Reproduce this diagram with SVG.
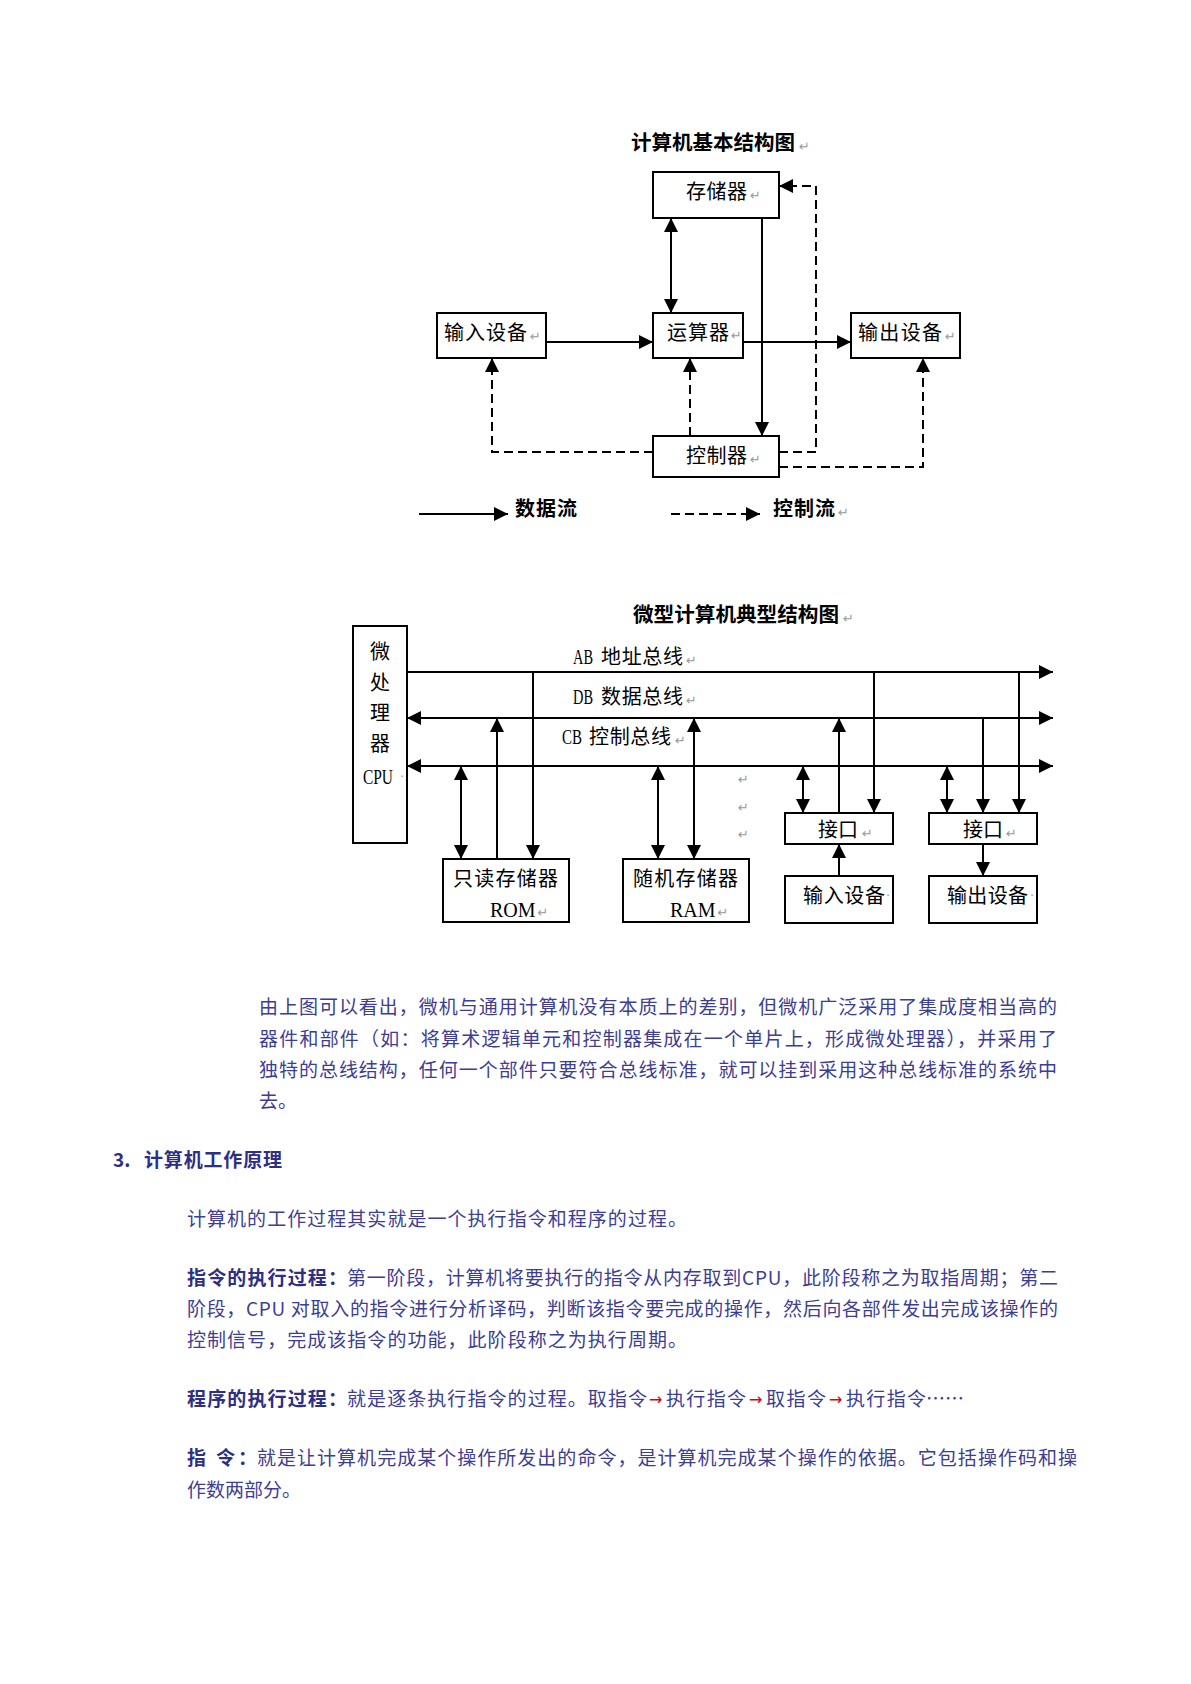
<svg xmlns="http://www.w3.org/2000/svg" width="1191" height="1684" viewBox="0 0 1191 1684">
<style>
.box{fill:#fff;stroke:#000;stroke-width:2}
.ln{fill:none;stroke:#000;stroke-width:2}
.dash{stroke-dasharray:9 5}
.lbl{font-family:"Noto Sans CJK SC","Noto Sans",sans-serif;font-size:20px;fill:#000}
.ttl{font-weight:bold}
.lat{font-family:"Liberation Serif",serif}
.rt{font-family:"DejaVu Sans",sans-serif;font-size:13px;fill:#999}
.p{font-family:"Noto Sans CJK SC","Noto Sans",sans-serif;font-size:19px;fill:#3d3d96}
.pb{font-weight:bold;fill:#2e2e85}
.red{font-family:"DejaVu Sans",sans-serif;font-size:16px;fill:#e00000}
</style>
<defs>
<marker id="ah" markerUnits="userSpaceOnUse" viewBox="0 0 14 14" markerWidth="14" markerHeight="14" refX="14" refY="7" orient="auto-start-reverse">
<path d="M0,0 L14,7 L0,14 z" fill="#000"/>
</marker>
</defs>

<!-- ========== Diagram 1 ========== -->
<g id="title1">
<text class="lbl ttl" x="631" y="150" textLength="164" lengthAdjust="spacingAndGlyphs">计算机基本结构图</text>
<text class="rt" x="799" y="151">↵</text>
</g>

<g id="connectors1">
<line class="ln" x1="671" y1="218" x2="671" y2="313" marker-start="url(#ah)" marker-end="url(#ah)"/>
<line class="ln" x1="546" y1="342" x2="653" y2="342" marker-end="url(#ah)"/>
<line class="ln" x1="743" y1="342" x2="851" y2="342" marker-end="url(#ah)"/>
<line class="ln" x1="762" y1="218" x2="762" y2="436" marker-end="url(#ah)"/>
<path class="ln dash" d="M653,452 H492 V358" marker-end="url(#ah)"/>
<path class="ln dash" d="M690,436 V358" marker-end="url(#ah)"/>
<path class="ln dash" d="M779,452 H816 V186 H779" marker-end="url(#ah)"/>
<path class="ln dash" d="M779,467 H923 V358" marker-end="url(#ah)"/>
</g>

<g id="memory">
<rect class="box" x="653" y="172" width="126" height="46"/>
<text class="lbl" x="686" y="199" textLength="61">存储器</text>
<text class="rt" x="750" y="200">↵</text>
</g>
<g id="alu">
<rect class="box" x="653" y="313" width="90" height="45"/>
<text class="lbl" x="667" y="340" textLength="62">运算器</text>
<text class="rt" x="731" y="340">↵</text>
</g>
<g id="input1">
<rect class="box" x="437" y="313" width="109" height="45"/>
<text class="lbl" x="444" y="340" textLength="83">输入设备</text>
<text class="rt" x="530" y="341">↵</text>
</g>
<g id="output1">
<rect class="box" x="851" y="313" width="109" height="45"/>
<text class="lbl" x="858" y="340" textLength="84">输出设备</text>
<text class="rt" x="945" y="341">↵</text>
</g>
<g id="controller">
<rect class="box" x="653" y="436" width="126" height="41"/>
<text class="lbl" x="686" y="463" textLength="61">控制器</text>
<text class="rt" x="750" y="464">↵</text>
</g>

<g id="legend">
<line class="ln" x1="419" y1="514" x2="508" y2="514" marker-end="url(#ah)"/>
<text class="lbl ttl" x="515" y="516" textLength="62">数据流</text>
<line class="ln dash" x1="671" y1="514" x2="760" y2="514" marker-end="url(#ah)"/>
<text class="lbl ttl" x="773" y="516" textLength="62">控制流</text>
<text class="rt" x="838" y="517">↵</text>
</g>

<!-- ========== Diagram 2 ========== -->
<g id="title2">
<text class="lbl ttl" x="633" y="622" textLength="206" lengthAdjust="spacingAndGlyphs">微型计算机典型结构图</text>
<text class="rt" x="843" y="623">↵</text>
</g>

<g id="cpu">
<rect class="box" x="353" y="626" width="54" height="217"/>
<text class="lbl" x="380" y="659" text-anchor="middle">微</text>
<text class="lbl" x="380" y="690" text-anchor="middle">处</text>
<text class="lbl" x="380" y="720" text-anchor="middle">理</text>
<text class="lbl" x="380" y="751" text-anchor="middle">器</text>
<text class="lbl lat" x="363" y="784" font-size="16" textLength="30" lengthAdjust="spacingAndGlyphs">CPU</text>
<text class="rt" x="400" y="781" font-size="8">·</text>
</g>

<g id="buses">
<line class="ln" x1="407" y1="672" x2="1053" y2="672" marker-end="url(#ah)"/>
<line class="ln" x1="407" y1="718" x2="1053" y2="718" marker-start="url(#ah)" marker-end="url(#ah)"/>
<line class="ln" x1="407" y1="766" x2="1053" y2="766" marker-start="url(#ah)" marker-end="url(#ah)"/>
<text class="lbl lat" x="573" y="664" font-size="18" textLength="20" lengthAdjust="spacingAndGlyphs">AB</text>
<text class="lbl" x="601" y="664" textLength="82">地址总线</text>
<text class="rt" x="686" y="665">↵</text>
<text class="lbl lat" x="573" y="704" font-size="18" textLength="20" lengthAdjust="spacingAndGlyphs">DB</text>
<text class="lbl" x="601" y="704" textLength="82">数据总线</text>
<text class="rt" x="686" y="705">↵</text>
<text class="lbl lat" x="562" y="744" font-size="18" textLength="20" lengthAdjust="spacingAndGlyphs">CB</text>
<text class="lbl" x="589" y="744" textLength="82">控制总线</text>
<text class="rt" x="675" y="745">↵</text>
</g>

<g id="connectors2">
<line class="ln" x1="461" y1="766" x2="461" y2="859" marker-start="url(#ah)" marker-end="url(#ah)"/>
<line class="ln" x1="497" y1="859" x2="497" y2="718" marker-end="url(#ah)"/>
<line class="ln" x1="533" y1="672" x2="533" y2="859" marker-end="url(#ah)"/>
<line class="ln" x1="658" y1="766" x2="658" y2="859" marker-start="url(#ah)" marker-end="url(#ah)"/>
<line class="ln" x1="694" y1="718" x2="694" y2="859" marker-start="url(#ah)" marker-end="url(#ah)"/>
<line class="ln" x1="803" y1="766" x2="803" y2="813" marker-start="url(#ah)" marker-end="url(#ah)"/>
<line class="ln" x1="839" y1="813" x2="839" y2="718" marker-end="url(#ah)"/>
<line class="ln" x1="874" y1="672" x2="874" y2="813" marker-end="url(#ah)"/>
<line class="ln" x1="839" y1="876" x2="839" y2="844" marker-end="url(#ah)"/>
<line class="ln" x1="947" y1="766" x2="947" y2="813" marker-start="url(#ah)" marker-end="url(#ah)"/>
<line class="ln" x1="983" y1="718" x2="983" y2="813" marker-end="url(#ah)"/>
<line class="ln" x1="1019" y1="672" x2="1019" y2="813" marker-end="url(#ah)"/>
<line class="ln" x1="983" y1="844" x2="983" y2="876" marker-end="url(#ah)"/>
</g>

<g id="rom">
<rect class="box" x="443" y="859" width="126" height="63"/>
<text class="lbl" x="453" y="886" textLength="105" font-size="21">只读存储器</text>
<text class="lbl lat" x="490" y="917" font-size="14">ROM<tspan class="rt" dx="2">↵</tspan></text>
</g>
<g id="ram">
<rect class="box" x="623" y="859" width="126" height="63"/>
<text class="lbl" x="633" y="886" textLength="105" font-size="21">随机存储器</text>
<text class="lbl lat" x="670" y="917" font-size="14">RAM<tspan class="rt" dx="2">↵</tspan></text>
</g>
<g id="marks">
<text class="rt" x="738" y="784">↵</text>
<text class="rt" x="738" y="812">↵</text>
<text class="rt" x="738" y="839">↵</text>
</g>
<g id="interface1">
<rect class="box" x="785" y="813" width="108" height="31"/>
<text class="lbl" x="818" y="837" textLength="40">接口</text>
<text class="rt" x="862" y="838">↵</text>
</g>
<g id="input2">
<rect class="box" x="785" y="876" width="108" height="47"/>
<text class="lbl" x="803" y="903" textLength="82">输入设备</text>
<text class="rt" x="886" y="900" font-size="8">·</text>
</g>
<g id="interface2">
<rect class="box" x="929" y="813" width="108" height="31"/>
<text class="lbl" x="963" y="837" textLength="40">接口</text>
<text class="rt" x="1006" y="838">↵</text>
</g>
<g id="output2">
<rect class="box" x="929" y="876" width="108" height="47"/>
<text class="lbl" x="947" y="903" textLength="81">输出设备</text>
<text class="rt" x="1030" y="900" font-size="8">·</text>
</g>

<!-- ========== Body text ========== -->
<g id="body">
<text class="p" x="259" y="1014" textLength="798">由上图可以看出，微机与通用计算机没有本质上的差别，但微机广泛采用了集成度相当高的</text>
<text class="p" x="259" y="1046" textLength="798">器件和部件（如：将算术逻辑单元和控制器集成在一个单片上，形成微处理器），并采用了</text>
<text class="p" x="259" y="1077" textLength="798">独特的总线结构，任何一个部件只要符合总线标准，就可以挂到采用这种总线标准的系统中</text>
<text class="p" x="259" y="1108">去。</text>

<text class="p pb" x="113" y="1167">3.</text>
<text class="p pb" x="144" y="1167" textLength="138">计算机工作原理</text>

<text class="p" x="187" y="1226" textLength="500">计算机的工作过程其实就是一个执行指令和程序的过程。</text>

<text class="p pb" x="187" y="1285" textLength="160">指令的执行过程：</text>
<text class="p" x="347" y="1285" textLength="711">第一阶段，计算机将要执行的指令从内存取到CPU，此阶段称之为取指周期；第二</text>
<text class="p" x="187" y="1316" textLength="871">阶段，CPU 对取入的指令进行分析译码，判断该指令要完成的操作，然后向各部件发出完成该操作的</text>
<text class="p" x="187" y="1347" textLength="500">控制信号，完成该指令的功能，此阶段称之为执行周期。</text>

<text class="p pb" x="187" y="1406" textLength="160">程序的执行过程：</text>
<text class="p" x="347" y="1406" textLength="300">就是逐条执行指令的过程。取指令</text>
<text class="red" x="649" y="1405">→</text>
<text class="p" x="666" y="1406" textLength="80">执行指令</text>
<text class="red" x="749" y="1405">→</text>
<text class="p" x="766" y="1406" textLength="60">取指令</text>
<text class="red" x="829" y="1405">→</text>
<text class="p" x="846" y="1406" textLength="80">执行指令</text>
<text class="p" x="926" y="1406" textLength="38">……</text>

<text class="p pb" x="187" y="1465" textLength="70">指 令：</text>
<text class="p" x="257" y="1465" textLength="820">就是让计算机完成某个操作所发出的命令，是计算机完成某个操作的依据。它包括操作码和操</text>
<text class="p" x="187" y="1497">作数两部分。</text>
</g>
</svg>
